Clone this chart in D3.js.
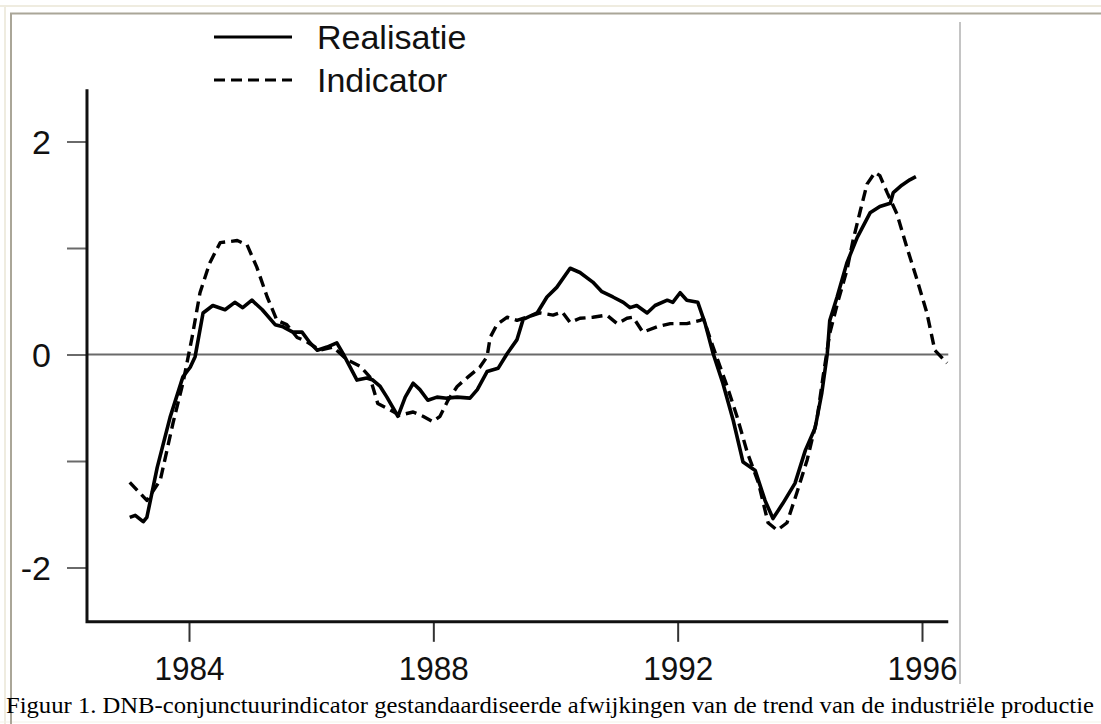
<!DOCTYPE html>
<html>
<head>
<meta charset="utf-8">
<script src="https://cdn.jsdelivr.net/npm/d3@7"></script>
<style>
  html, body { margin: 0; padding: 0; background: #ffffff; }
  svg { display: block; }
</style>
</head>
<body>
<script>
// ---- data ----
const seriesNames = ["Realisatie", "Indicator"];

const realYears = [1983.03,1983.12,1983.25,1983.31,1983.48,1983.69,1983.90,1984.02,1984.10,1984.23,
  1984.39,1984.59,1984.75,1984.88,1985.03,1985.20,1985.41,1985.54,1985.70,1985.85,
  1985.98,1986.10,1986.26,1986.42,1986.52,1986.75,1986.91,1987.01,1987.13,1987.24,
  1987.42,1987.54,1987.67,1987.78,1987.91,1988.06,1988.22,1988.39,1988.60,1988.72,
  1988.88,1989.06,1989.21,1989.37,1989.47,1989.70,1989.86,1990.02,1990.24,1990.40,
  1990.61,1990.76,1990.94,1991.11,1991.22,1991.33,1991.50,1991.63,1991.83,1991.92,
  1992.04,1992.15,1992.33,1992.45,1992.58,1992.74,1992.91,1993.07,1993.27,1993.43,
  1993.56,1993.72,1993.92,1994.09,1994.25,1994.36,1994.45,1994.49,1994.61,1994.77,
  1994.94,1995.15,1995.31,1995.48,1995.53,1995.67,1995.80,1995.90];
const realValues = [-1.53,-1.51,-1.57,-1.53,-1.06,-0.59,-0.21,-0.12,-0.02,0.39,
  0.46,0.42,0.49,0.44,0.51,0.42,0.28,0.26,0.21,0.21,
  0.11,0.04,0.07,0.11,0.01,-0.24,-0.22,-0.24,-0.30,-0.40,
  -0.58,-0.40,-0.27,-0.33,-0.43,-0.40,-0.41,-0.40,-0.41,-0.33,
  -0.16,-0.13,0.01,0.14,0.33,0.39,0.54,0.63,0.81,0.77,
  0.68,0.59,0.54,0.49,0.44,0.46,0.39,0.46,0.51,0.49,
  0.58,0.51,0.49,0.29,0.01,-0.27,-0.62,-1.01,-1.09,-1.37,
  -1.54,-1.40,-1.21,-0.90,-0.69,-0.36,0.01,0.32,0.54,0.86,
  1.10,1.33,1.39,1.42,1.52,1.59,1.64,1.67];

const indYears = [1983.03,1983.31,1983.53,1983.74,1983.90,1984.05,1984.18,1984.34,1984.51,1984.79,
  1984.95,1985.11,1985.28,1985.44,1985.60,1985.77,1985.93,1986.14,1986.36,1986.59,
  1986.80,1986.96,1987.09,1987.29,1987.45,1987.67,1987.83,1987.99,1988.11,1988.24,
  1988.39,1988.57,1988.76,1988.88,1988.93,1989.04,1989.21,1989.37,1989.53,1989.75,
  1989.96,1990.11,1990.24,1990.40,1990.61,1990.84,1991.01,1991.17,1991.27,1991.43,
  1991.66,1991.88,1992.15,1992.37,1992.42,1992.58,1992.81,1992.97,1993.14,1993.32,
  1993.48,1993.63,1993.79,1993.95,1994.12,1994.28,1994.38,1994.49,1994.63,1994.77,
  1994.87,1994.99,1995.10,1995.23,1995.31,1995.43,1995.59,1995.75,1995.92,1996.08,
  1996.21,1996.41];
const indValues = [-1.20,-1.37,-1.18,-0.64,-0.27,0.16,0.58,0.86,1.05,1.07,
  1.03,0.82,0.54,0.32,0.28,0.16,0.12,0.04,0.07,-0.05,
  -0.11,-0.21,-0.46,-0.52,-0.57,-0.54,-0.58,-0.63,-0.58,-0.43,
  -0.30,-0.21,-0.12,-0.02,0.16,0.28,0.35,0.32,0.35,0.39,
  0.37,0.40,0.30,0.34,0.35,0.37,0.29,0.34,0.35,0.21,
  0.26,0.29,0.29,0.32,0.34,0.07,-0.30,-0.58,-0.92,-1.20,
  -1.58,-1.65,-1.58,-1.30,-0.99,-0.61,-0.21,0.20,0.51,0.79,
  1.07,1.35,1.60,1.71,1.68,1.52,1.32,1.01,0.70,0.39,
  0.04,-0.08];

const xTickValues = [1984, 1988, 1992, 1996];
const yTickValues = [-2, -1, 0, 1, 2];
const yTickLabels = ["-2", "", "0", "", "2"];
const xAxisExtent = [1982.33, 1996.43];
const yAxisExtent = [-2.51, 2.49];
const caption = "Figuur 1. DNB-conjunctuurindicator gestandaardiseerde afwijkingen van de trend van de industriële productie";

// ---- layout ----
const W = 1101, H = 724;
const svg = d3.select("body").append("svg").attr("width", W).attr("height", H);

const x = d3.scaleLinear().domain([1984, 1996]).range([189, 922]);
const y = d3.scaleLinear().domain([-2, 2]).range([567.5, 141.5]);

// page frame (table cell borders)
svg.append("rect").attr("x", 0).attr("y", 0).attr("width", W).attr("height", H).attr("fill", "#ffffff");
svg.append("line").attr("x1", 0).attr("x2", W).attr("y1", 6).attr("y2", 6).attr("stroke", "#efece0").attr("stroke-width", 2);
svg.append("line").attr("x1", 5).attr("x2", 5).attr("y1", 6).attr("y2", H).attr("stroke", "#efece0").attr("stroke-width", 2);
svg.append("line").attr("x1", 0).attr("x2", W).attr("y1", 722).attr("y2", 722).attr("stroke", "#f3f1e8").attr("stroke-width", 1);
svg.append("line").attr("x1", 10).attr("x2", W).attr("y1", 13.5).attr("y2", 13.5).attr("stroke", "#aaa698").attr("stroke-width", 2);
svg.append("line").attr("x1", 11).attr("x2", 11).attr("y1", 13).attr("y2", H).attr("stroke", "#aaa698").attr("stroke-width", 2);
// image right edge
svg.append("line").attr("x1", 960).attr("x2", 960).attr("y1", 22).attr("y2", 684).attr("stroke", "#c4c4c4").attr("stroke-width", 2);

const g = svg.append("g");

// zero reference line
g.append("line")
  .attr("x1", x(xAxisExtent[0])).attr("x2", x(xAxisExtent[1]))
  .attr("y1", y(0)).attr("y2", y(0))
  .attr("stroke", "#6a6a6a").attr("stroke-width", 2);

// y axis
const yAxis = d3.axisLeft(y).tickValues(yTickValues).tickSize(20).tickPadding(16)
  .tickFormat((d, i) => yTickLabels[i]);
const yg = g.append("g").attr("transform", `translate(${x(xAxisExtent[0])},0)`).call(yAxis);
yg.select(".domain").remove();
yg.selectAll(".tick line").attr("stroke", "#6a6a6a").attr("stroke-width", 2);
yg.selectAll(".tick text").attr("font-family", "Liberation Sans, Arial, sans-serif")
  .attr("font-size", 34).attr("fill", "#111").attr("dy", "0.35em");

// x axis
const xAxis = d3.axisBottom(x).tickValues(xTickValues).tickSize(20).tickPadding(14)
  .tickFormat(d3.format("d"));
const xg = g.append("g").attr("transform", `translate(0,${y(yAxisExtent[0])})`).call(xAxis);
xg.select(".domain").remove();
xg.selectAll(".tick line").attr("stroke", "#333").attr("stroke-width", 2);
xg.selectAll(".tick text").attr("font-family", "Liberation Sans, Arial, sans-serif")
  .attr("font-size", 34).attr("fill", "#111").attr("dy", "0.71em")
  .attr("textLength", 70).attr("lengthAdjust", "spacingAndGlyphs");

// axis lines (L shape)
g.append("path")
  .attr("d", `M${x(xAxisExtent[0])},${y(yAxisExtent[1])}V${y(yAxisExtent[0])}H${x(xAxisExtent[1])}`)
  .attr("fill", "none").attr("stroke", "#111").attr("stroke-width", 3);

// series
const line = d3.line().x(d => x(d[0])).y(d => y(d[1])).curve(d3.curveLinear);
const realData = realYears.map((yr, i) => [yr, realValues[i]]);
const indData = indYears.map((yr, i) => [yr, indValues[i]]);

g.append("path").datum(indData).attr("d", line)
  .attr("fill", "none").attr("stroke", "#000").attr("stroke-width", 3.4)
  .attr("stroke-dasharray", "11,6").attr("stroke-linejoin", "round");
g.append("path").datum(realData).attr("d", line)
  .attr("fill", "none").attr("stroke", "#000").attr("stroke-width", 3.6)
  .attr("stroke-linejoin", "round");

// legend
const legend = svg.append("g");
const legendRows = [
  { name: seriesNames[0], y: 37, dash: null },
  { name: seriesNames[1], y: 80, dash: "11,6" }
];
legendRows.forEach(r => {
  legend.append("line").attr("x1", 214).attr("x2", 292).attr("y1", r.y).attr("y2", r.y)
    .attr("stroke", "#000").attr("stroke-width", 3.2)
    .attr("stroke-dasharray", r.dash);
  legend.append("text").attr("x", 317).attr("y", r.y).attr("dy", "0.35em")
    .attr("font-family", "Liberation Sans, Arial, sans-serif").attr("font-size", 34)
    .attr("fill", "#111").text(r.name);
});

// caption
svg.append("text").attr("x", 6).attr("y", 713)
  .attr("font-family", "Liberation Serif, Times New Roman, serif").attr("font-size", 24)
  .attr("fill", "#000")
  .attr("textLength", 1088).attr("lengthAdjust", "spacingAndGlyphs")
  .text(caption);
</script>
</body>
</html>
